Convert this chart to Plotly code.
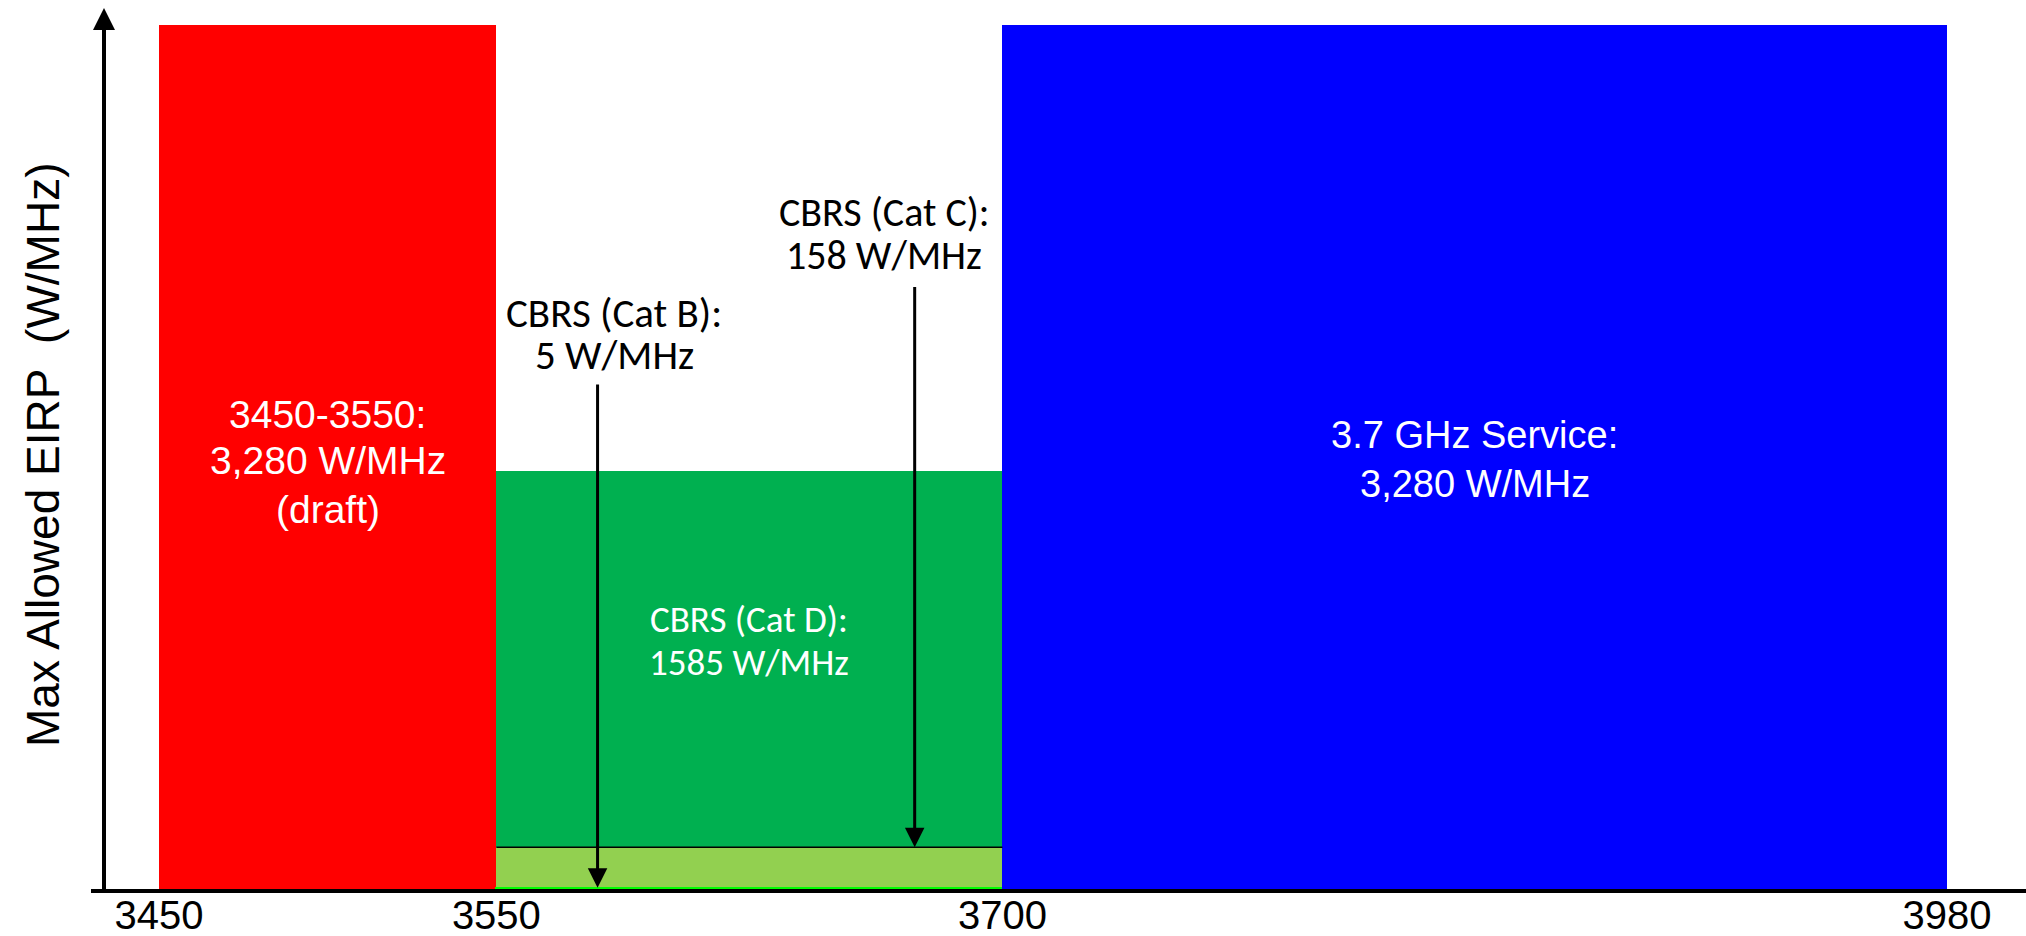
import plotly.graph_objects as go

# Frequency band edges (MHz) used as x tick positions
band_edges = [3450, 3550, 3700, 3980]
tick_labels = ["3450", "3550", "3700", "3980"]

# Power limits per band (max allowed EIRP, W/MHz)
band_names = ["3450-3550", "CBRS (Cat D)", "CBRS (Cat C)", "CBRS (Cat B)", "3.7 GHz Service"]
band_start = [3450, 3550, 3550, 3550, 3700]
band_end = [3550, 3700, 3700, 3700, 3980]
band_eirp = [3280, 1585, 158, 5, 3280]

# Fill colours, one per band
band_colors = ["#FF0000", "#00B050", "#92D050", "#00FF00", "#0000FF"]

W, H = 2026, 936
L, R, T, B = 104, 0, 8, 45
PH = H - T - B  # plot height in px


def py(pix):
    """Pixel row -> paper y."""
    return (H - B - pix) / PH


fig = go.Figure()

for i, name in enumerate(band_names):
    s, e, v = band_start[i], band_end[i], band_eirp[i]
    if v < 50:
        outline = dict(color=band_colors[i], width=2)
    else:
        outline = dict(width=0)
    fig.add_trace(go.Bar(
        x=[(s + e) / 2], y=[v], width=[e - s], name=name,
        marker=dict(color=band_colors[i], line=outline),
        hoverinfo="skip", showlegend=False,
    ))

# thin outline on top of the Cat C block
cat_c = band_names.index("CBRS (Cat C)")
fig.add_trace(go.Scatter(
    x=[band_start[cat_c], band_end[cat_c]], y=[band_eirp[cat_c]] * 2,
    mode="lines", line=dict(color="black", width=1.5),
    hoverinfo="skip", showlegend=False,
))

arial = "Liberation Sans, Arial, sans-serif"
calibri = "Carlito, Calibri, Lato, sans-serif"

ann = []


def add_lines(x, lines, rows, size, color, family):
    for txt, r in zip(lines, rows):
        ann.append(dict(x=x, xref="x", y=py(r), yref="paper", text=txt,
                        showarrow=False, xanchor="center", yanchor="middle",
                        borderpad=0,
                        font=dict(size=size, color=color, family=family)))


def mid(i):
    return (band_start[i] + band_end[i]) / 2


red, catd, catc, catb, blue = range(5)

add_lines(mid(red), [f"{band_names[red]}:", f"{band_eirp[red]:,} W/MHz", "(draft)"],
          [414, 461, 509], 39, "white", arial)
add_lines(mid(blue), [f"{band_names[blue]}:", f"{band_eirp[blue]:,} W/MHz"],
          [435, 484], 38, "white", arial)
add_lines(mid(catd), [f"{band_names[catd]}:", f"{band_eirp[catd]} W/MHz"],
          [619, 662], 37, "white", calibri)

# Cat C and Cat B callouts with arrows pointing to their levels
cat_c_x, cat_b_x = 3674, 3580
add_lines(3665, [f"{band_names[catc]}:", f"{band_eirp[catc]} W/MHz"],
          [212, 255], 40, "black", calibri)
add_lines(3585, [f"{band_names[catb]}:", f"{band_eirp[catb]} W/MHz"],
          [313, 355], 41, "black", calibri)

ann.append(dict(x=cat_c_x, y=band_eirp[catc], xref="x", yref="y",
                ax=cat_c_x, ay=2290, axref="x", ayref="y", text="",
                showarrow=True, arrowhead=2, arrowsize=1.3, arrowwidth=3,
                arrowcolor="black", standoff=0))
ann.append(dict(x=cat_b_x, y=band_eirp[catb], xref="x", yref="y",
                ax=cat_b_x, ay=1920, axref="x", ayref="y", text="",
                showarrow=True, arrowhead=2, arrowsize=1.3, arrowwidth=3,
                arrowcolor="black", standoff=0))

# vertical axis drawn as an arrow
ann.append(dict(x=0, y=1, xref="paper", yref="paper", ax=0, ay=PH + 2,
                text="", showarrow=True, arrowhead=2, arrowsize=1.1,
                arrowwidth=4, arrowcolor="black", standoff=0))

# y-axis title
ann.append(dict(x=(43 - L) / (W - L - R), xref="paper", y=py(455), yref="paper",
                text="Max Allowed EIRP  (W/MHz)", textangle=-90, showarrow=False,
                xanchor="center", yanchor="middle",
                font=dict(size=46, color="black", family=arial)))

px_per_mhz = (1947 - 159) / (3980 - 3450)
x0 = 3450 - (159 - L) / px_per_mhz
x1 = 3980 + (W - 1947) / px_per_mhz

y_hi = 3342.6
y_lo = -2 * (y_hi) / (PH - 2)

fig.update_layout(
    width=W, height=H,
    margin=dict(l=L, r=R, t=T, b=B, autoexpand=False),
    paper_bgcolor="white", plot_bgcolor="white",
    barmode="overlay", bargap=0,
    annotations=ann,
    shapes=[dict(type="line", xref="paper", yref="paper",
                 x0=-13 / (W - L - R), x1=1, y0=0, y1=0,
                 line=dict(color="black", width=4), layer="above")],
    xaxis=dict(range=[x0, x1], tickvals=band_edges, ticktext=tick_labels,
               showgrid=False, zeroline=False, showline=False, ticks="",
               automargin=False, ticklabelstandoff=-3,
               tickfont=dict(size=40, color="black",
                             family="Liberation Sans Narrow, Liberation Sans, Arial")),
    yaxis=dict(range=[y_lo, y_hi], visible=False, showgrid=False, zeroline=False,
               automargin=False),
)

fig.write_html("out.html")
